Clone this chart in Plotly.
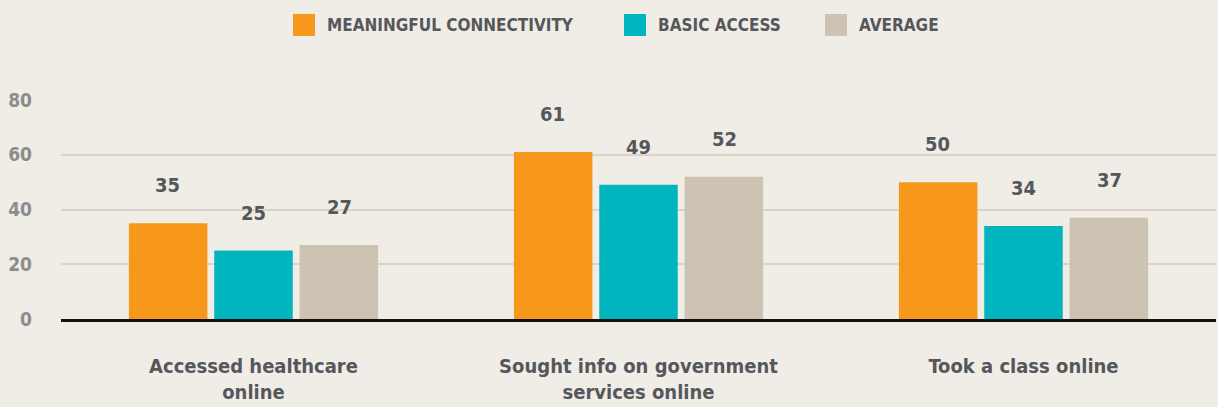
import plotly.graph_objects as go

categories = ["Accessed healthcare<br>online", "Sought info on government<br>services online", "Took a class online"]
series_names = ["MEANINGFUL CONNECTIVITY", "BASIC ACCESS", "AVERAGE"]
meaningful = [35, 61, 50]
basic = [25, 49, 34]
average = [27, 52, 37]
y_ticks = [0, 20, 40, 60, 80]

COLORS = ["#F7981D", "#00B5BD", "#CDC3B2"]
FONT = "DejaVu Sans Condensed, Liberation Sans Narrow, sans-serif"
INK = "#55575B"
BG = "#F0EDE6"
W, H, L, R, T, B = 1218, 407, 61, 2, 100, 88
PLOT_H = H - T - B


def px_to_paper_x(x):
    return (x - L) / (W - L - R)


def px_to_paper_y(y):
    return (H - B - y) / PLOT_H


fig = go.Figure()
for name, vals, color in zip(series_names, (meaningful, basic, average), COLORS):
    fig.add_bar(x=categories, y=vals, name=name, marker_color=color,
                marker_line_width=0, hoverinfo="skip", showlegend=False)

# étiquettes de valeur flottant au-dessus des barres
offsets = [-86, 0, 86]
for vals, dx in zip((meaningful, basic, average), offsets):
    for cat, v in zip(categories, vals):
        fig.add_annotation(x=cat, y=v, text=str(v), showarrow=False,
                           xshift=dx, yshift=38, yanchor="middle",
                           font=dict(family=FONT, size=20, color=INK, weight="bold"))

# légende dessinée à la main : carrés plus grands que ceux de la légende native
legend_x = [293, 624, 825]
for name, color, lx in zip(series_names, COLORS, legend_x):
    fig.add_shape(type="rect", xref="paper", yref="paper",
                  x0=px_to_paper_x(lx), x1=px_to_paper_x(lx + 22),
                  y0=px_to_paper_y(36), y1=px_to_paper_y(14),
                  line_width=0, fillcolor=color)
    fig.add_annotation(xref="paper", yref="paper", x=px_to_paper_x(lx + 32),
                       y=px_to_paper_y(25), xanchor="left", yanchor="middle",
                       text=name, showarrow=False,
                       font=dict(family=FONT, size=17, color=INK, weight="bold"))

fig.update_layout(
    width=W, height=H,
    paper_bgcolor=BG, plot_bgcolor=BG,
    margin=dict(l=L, r=R, t=T, b=B),
    barmode="group", bargap=0.335, bargroupgap=0.08,
    font=dict(family=FONT, color=INK),
    showlegend=False,
    xaxis=dict(showgrid=False, showline=True, linecolor="#111111", linewidth=3,
               tickfont=dict(family=FONT, size=20, color=INK, weight="bold"),
               ticks="", ticklabelstandoff=27),
    yaxis=dict(range=[0, 80], tickvals=y_ticks, showgrid=True,
               gridcolor="#DCD3C6", gridwidth=1.5, zeroline=False,
               tickfont=dict(family=FONT, size=19, color="#8C8C8C", weight="bold"),
               ticklabelstandoff=28),
)

fig.write_html("out.html", config=dict(displayModeBar=False),
               post_script="document.body.style.margin='0';")
